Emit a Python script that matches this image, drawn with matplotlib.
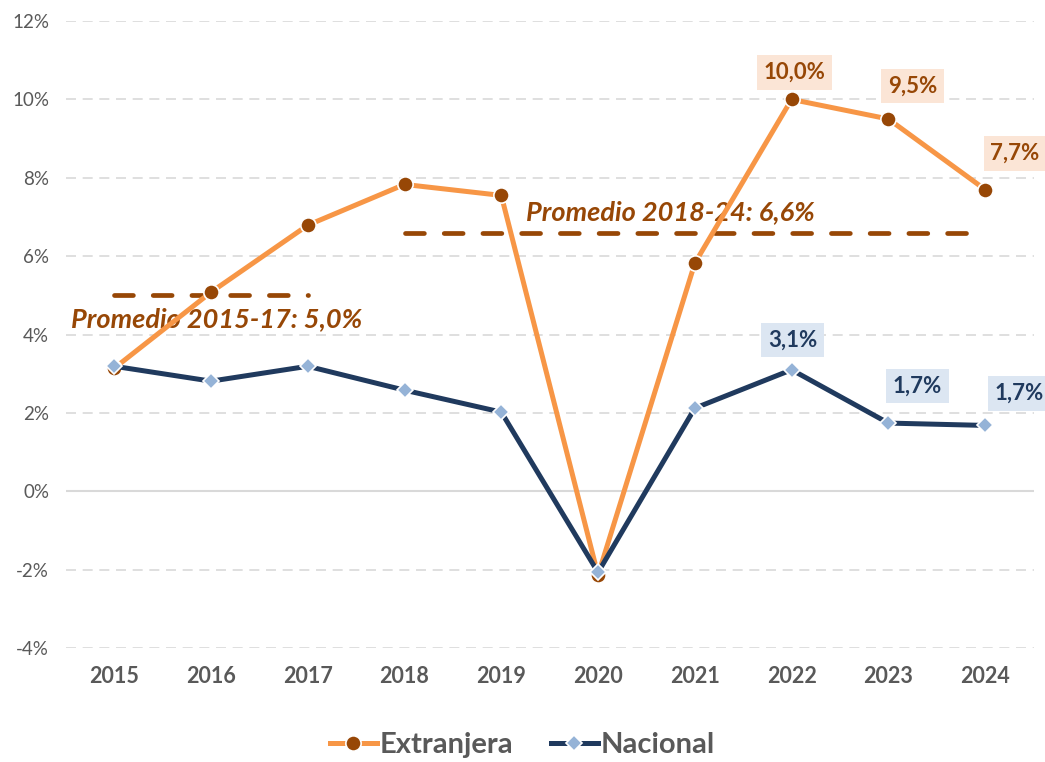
import matplotlib.pyplot as plt
from matplotlib.ticker import FuncFormatter

plt.rcParams['font.family'] = ['Lato', 'DejaVu Sans']

# Data
years = [2015, 2016, 2017, 2018, 2019, 2020, 2021, 2022, 2023, 2024]
extranjera = [3.14, 5.08, 6.79, 7.83, 7.55, -2.14, 5.82, 10.0, 9.5, 7.7]
nacional = [3.19, 2.81, 3.19, 2.58, 2.02, -2.07, 2.12, 3.1, 1.74, 1.68]

avg_periods = [(2015, 2017), (2018, 2024)]
avg_values = [5.0, 6.6]
avg_labels = ['Promedio 2015-17: 5,0%', 'Promedio 2018-24: 6,6%']

ext_label_years = [2022, 2023, 2024]
nac_label_years = [2022, 2023, 2024]

# Colors
ORANGE = '#F79646'
BROWN = '#974706'
NAVY = '#203A5E'
LIGHTBLUE = '#95B3D7'
GRID = '#D9D9D9'
TXT = '#595959'


def fmt_pct(v):
    return f'{v:.1f}%'.replace('.', ',')


fig = plt.figure(figsize=(10.45, 7.62), dpi=100)
ax = fig.add_axes([0.063, 0.1496, 0.926, 0.8228])

ax.set_xlim(2014.5, 2024.5)
ax.set_ylim(-4, 12)
ax.set_yticks(range(-4, 13, 2))
ax.yaxis.set_major_formatter(FuncFormatter(lambda v, p: f'{v:.0f}%'))
ax.set_xticks(years)

# gridlines
for t in range(-4, 13, 2):
    if t == 0:
        ax.axhline(0, color=GRID, lw=1.5, zorder=0)
    else:
        ax.axhline(t, color=GRID, lw=1.2, dashes=(6, 4), zorder=0)

for s in ax.spines.values():
    s.set_visible(False)
ax.tick_params(axis='both', length=0)
ax.tick_params(axis='y', labelsize=13.5, labelcolor=TXT, pad=12)
ax.tick_params(axis='x', labelsize=15.5, labelcolor=TXT, pad=13)
for lbl in ax.get_xticklabels():
    lbl.set_fontweight('bold')

# average lines
for (x0, x1), v in zip(avg_periods, avg_values):
    ax.plot([x0, x1], [v, v], color=BROWN, lw=3.4, dashes=(4.0, 4.2),
            dash_capstyle='round', zorder=2)

ax.text(2014.55, 4.4, avg_labels[0], color=BROWN, fontsize=19.5,
        fontstyle='italic', fontweight='bold', va='center', ha='left')
ax.text(2019.26, 7.13, avg_labels[1], color=BROWN, fontsize=19.5,
        fontstyle='italic', fontweight='bold', va='center', ha='left')

# series
ax.plot(years, extranjera, color=ORANGE, lw=3.6, marker='o', markersize=11,
        markerfacecolor=BROWN, markeredgecolor='white', markeredgewidth=1.2,
        label='Extranjera', zorder=3)
ax.plot(years, nacional, color=NAVY, lw=3.6, marker='D', markersize=8,
        markerfacecolor=LIGHTBLUE, markeredgecolor='white', markeredgewidth=1.2,
        label='Nacional', zorder=4)

# data labels
ext_offsets = [(3, 27), (24, 33), (30, 36)]
for yr, off in zip(ext_label_years, ext_offsets):
    v = extranjera[years.index(yr)]
    ax.annotate(fmt_pct(v), (yr, v), xytext=off, textcoords='offset pixels',
                ha='center', va='center', fontsize=16, fontweight='bold',
                color=BROWN,
                bbox=dict(boxstyle='square,pad=0.3', fc='#FBE5D6', ec='none'))

nac_offsets = [(1, 30), (29, 37), (34, 32)]
for yr, off in zip(nac_label_years, nac_offsets):
    v = nacional[years.index(yr)]
    ax.annotate(fmt_pct(v), (yr, v), xytext=off, textcoords='offset pixels',
                ha='center', va='center', fontsize=16, fontweight='bold',
                color=NAVY,
                bbox=dict(boxstyle='square,pad=0.3', fc='#DCE6F2', ec='none'))

leg = fig.legend(loc='center', bbox_to_anchor=(0.5, 0.022), ncol=2,
                 frameon=False, fontsize=21, handlelength=1.6,
                 handletextpad=0.1, columnspacing=1.3)
for t in leg.get_texts():
    t.set_color(TXT)
    t.set_fontweight('bold')

fig.savefig('out.png', dpi=100)
